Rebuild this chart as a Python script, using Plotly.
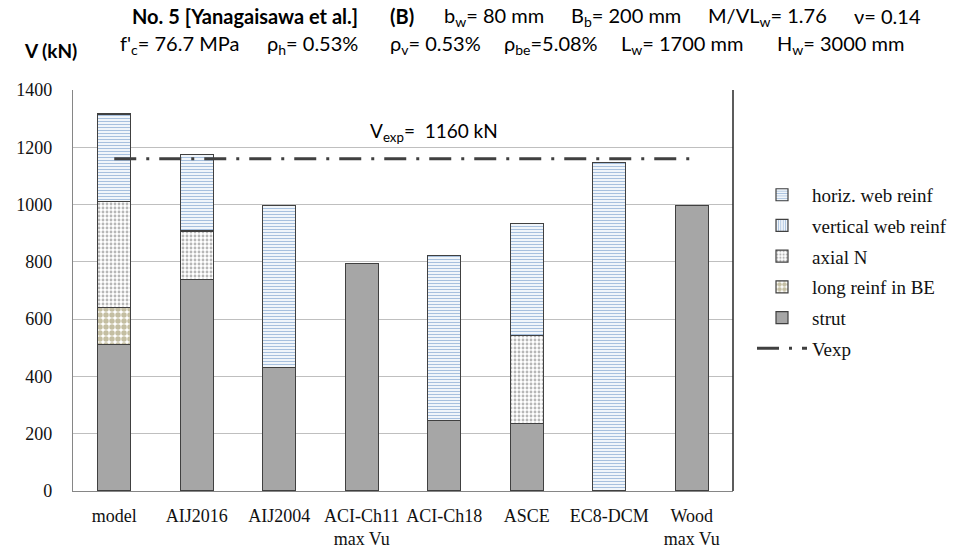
import plotly.graph_objects as go

categories = ["model", "AIJ2016", "AIJ2004", "ACI-Ch11<br>max Vu", "ACI-Ch18", "ASCE", "EC8-DCM", "Wood<br>max Vu"]
strut = [512, 739, 432, 794, 245, 236, None, 996]
long_reinf_be = [128, None, None, None, None, None, None, None]
axial_n = [371, 169, None, None, None, 306, None, None]
vertical_web = [None, None, None, None, None, None, None, None]
horiz_web = [305, 266, 566, None, 576, 393, 1147, None]
v_exp = 1160

L, R, T, B = 73, 224, 90, 58.5
W, H = 957, 550
pw, ph = W - L - R, H - T - B

def px(x):
    return (x - L) / pw

def py(y):
    return (H - B - y) / ph

serif = "Liberation Serif"
sans = "Lato, Carlito, Open Sans, sans-serif"
edge = dict(color="#404040", width=1.2)

fig = go.Figure()

fig.add_trace(go.Bar(
    x=categories, y=strut, name="strut", legendrank=5, legendgroup="e",
    marker=dict(color="#A6A6A6", line=edge),
))
fig.add_trace(go.Bar(
    x=categories, y=long_reinf_be, name="long reinf in BE", legendrank=4, legendgroup="d",
    marker=dict(color="white", line=edge,
                pattern=dict(shape=".", fgcolor="#8A7D45", bgcolor="white", size=6, solidity=0.65, fillmode="overlay")),
))
fig.add_trace(go.Bar(
    x=categories, y=axial_n, name="axial N", legendrank=3, legendgroup="c",
    marker=dict(color="white", line=edge,
                pattern=dict(shape=".", fgcolor="#6F6F6F", bgcolor="white", size=4, solidity=0.4, fillmode="overlay")),
))
fig.add_trace(go.Bar(
    x=categories, y=vertical_web, name="vertical web reinf", legendrank=2, legendgroup="b",
    marker=dict(color="white", line=edge,
                pattern=dict(shape="|", fgcolor="#4F81BD", bgcolor="white", size=3, solidity=0.45, fillmode="overlay")),
))
fig.add_trace(go.Bar(
    x=categories, y=horiz_web, name="horiz. web reinf", legendrank=1, legendgroup="a",
    marker=dict(color="white", line=edge,
                pattern=dict(shape="-", fgcolor="#4F81BD", bgcolor="white", size=3, solidity=0.45, fillmode="overlay")),
))
fig.add_trace(go.Scatter(
    x=categories, y=[v_exp] * len(categories), name="Vexp", mode="lines", legendrank=6, legendgroup="f",
    line=dict(color="#404040", width=3, dash="22px,10px,3px,10px"),
))

fig.update_layout(
    width=W, height=H,
    margin=dict(l=L, r=R, t=T, b=B, autoexpand=False),
    barmode="stack", bargap=0.6,
    plot_bgcolor="white", paper_bgcolor="white",
    showlegend=True,
    legend=dict(x=px(752), y=py(176), xanchor="left", yanchor="top",
                traceorder="grouped", tracegroupgap=3, itemwidth=50,
                font=dict(family=serif, size=19, color="#111"),
                bgcolor="rgba(0,0,0,0)"),
    xaxis=dict(showline=True, linecolor="#868686", linewidth=1.2, automargin=False,
               tickangle=0,
               tickfont=dict(family=serif, size=18, color="#111"),
               ticks="", ticklabelstandoff=8),
    yaxis=dict(range=[0, 1400], dtick=200, showgrid=True, gridcolor="#BFBFBF", gridwidth=1.3,
               showline=True, linecolor="#868686", linewidth=1.2, zeroline=False, automargin=False,
               tickfont=dict(family=serif, size=18, color="#111"), ticks="", ticklabelstandoff=16),
    shapes=[dict(type="line", xref="paper", yref="paper", x0=1, x1=1, y0=0, y1=1,
                 line=dict(color="#262626", width=1.5))],
)

title_font = dict(family=sans, size=20, color="#000")
line1 = [
    ("<b>No. 5 [Yanagaisawa et al.]</b>", 130),
    ("<b>(B)</b>", 388),
    ("b<sub>w</sub>= 80 mm", 442),
    ("B<sub>b</sub>= 200 mm", 569),
    ("M/VL<sub>w</sub>= 1.76", 706),
    ("ν= 0.14", 852),
]
line2 = [
    ("f'<sub>c</sub>= 76.7 MPa", 118),
    ("ρ<sub>h</sub>= 0.53%", 265),
    ("ρ<sub>v</sub>= 0.53%", 388),
    ("ρ<sub>be</sub>=5.08%", 502),
    ("L<sub>w</sub>= 1700 mm", 619),
    ("H<sub>w</sub>= 3000 mm", 775),
]
for txt, x0 in line1:
    fig.add_annotation(text=txt, xref="paper", yref="paper", x=px(x0), y=py(16),
                       xanchor="left", yanchor="middle", showarrow=False, font=title_font)
for txt, x0 in line2:
    fig.add_annotation(text=txt, xref="paper", yref="paper", x=px(x0), y=py(44),
                       xanchor="left", yanchor="middle", showarrow=False, font=title_font)

fig.add_annotation(text="<b>V (kN)</b>", xref="paper", yref="paper", x=px(22), y=py(50),
                   xanchor="left", yanchor="middle", showarrow=False,
                   font=dict(family=sans, size=19, color="#000"))
fig.add_annotation(text="V<sub>exp</sub>=\u00a0\u00a01160 kN", xref="paper", yref="paper",
                   x=px(500), y=py(132), xanchor="right", yanchor="middle", showarrow=False,
                   font=dict(family=sans, size=19, color="#000"))

fig.write_html("out.html")
